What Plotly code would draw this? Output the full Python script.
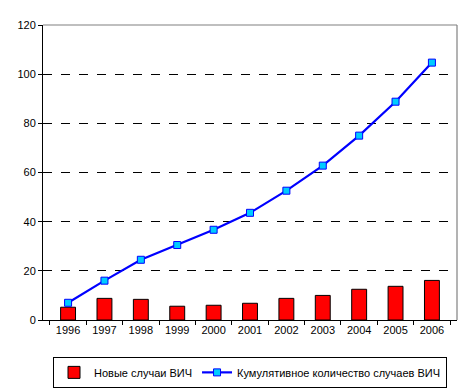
import plotly.graph_objects as go

years = ["1996", "1997", "1998", "1999", "2000", "2001", "2002", "2003", "2004", "2005", "2006"]
new_cases = [5.2, 8.8, 8.4, 5.6, 6.0, 6.8, 8.8, 10.0, 12.5, 13.7, 16.1]
cumulative = [7.0, 16.0, 24.5, 30.5, 36.7, 43.6, 52.6, 62.8, 75.0, 88.8, 104.7]
y_ticks = [0, 20, 40, 60, 80, 100, 120]

fig = go.Figure()
fig.add_trace(go.Bar(
    x=years, y=new_cases, name="Новые случаи ВИЧ",
    marker=dict(color="#FF0000", line=dict(color="#000000", width=1)),
    width=0.41,
))
fig.add_trace(go.Scatter(
    x=years, y=cumulative, name="Кумулятивное количество случаев ВИЧ",
    mode="lines+markers",
    line=dict(color="#0000FF", width=2.2),
    marker=dict(symbol="square", size=7, color="#00CCFF", line=dict(color="#0000FF", width=1)),
))

# gray plot-area border (top and right)
fig.add_shape(type="line", xref="x domain", yref="y domain", x0=0, x1=1, y0=1, y1=1,
              line=dict(color="#808080", width=1.2), layer="above")
fig.add_shape(type="line", xref="x domain", yref="y domain", x0=1, x1=1, y0=0, y1=1,
              line=dict(color="#808080", width=1.2), layer="above")

fig.update_layout(
    width=472, height=388,
    margin=dict(l=43, r=15, t=25, b=68, autoexpand=False),
    paper_bgcolor="white", plot_bgcolor="white",
    font=dict(family="Liberation Sans, Arial, sans-serif", size=11, color="#000000"),
    bargap=0.5,
    showlegend=True,
    legend=dict(orientation="h", x=0.5, xanchor="center", y=-0.125, yanchor="top",
                bordercolor="#000000", borderwidth=1, bgcolor="white",
                font=dict(size=11), itemwidth=30, traceorder="normal",
                tracegroupgap=0),
    xaxis=dict(type="category", showgrid=False, showline=True, linecolor="#000000", linewidth=1,
               ticks="outside", ticklen=4, tickcolor="#000000", tickson="boundaries",
               tickfont=dict(size=11)),
    yaxis=dict(range=[0, 120], tickvals=y_ticks, showgrid=True, gridcolor="#000000",
               griddash="dash", gridwidth=1, showline=True, linecolor="#000000", linewidth=1,
               ticks="outside", ticklen=4, tickcolor="#000000", zeroline=False,
               tickfont=dict(size=11)),
)

fig.write_html("out.html", config={"displayModeBar": False},
               post_script="document.body.style.margin='0';document.body.style.overflow='hidden';")
